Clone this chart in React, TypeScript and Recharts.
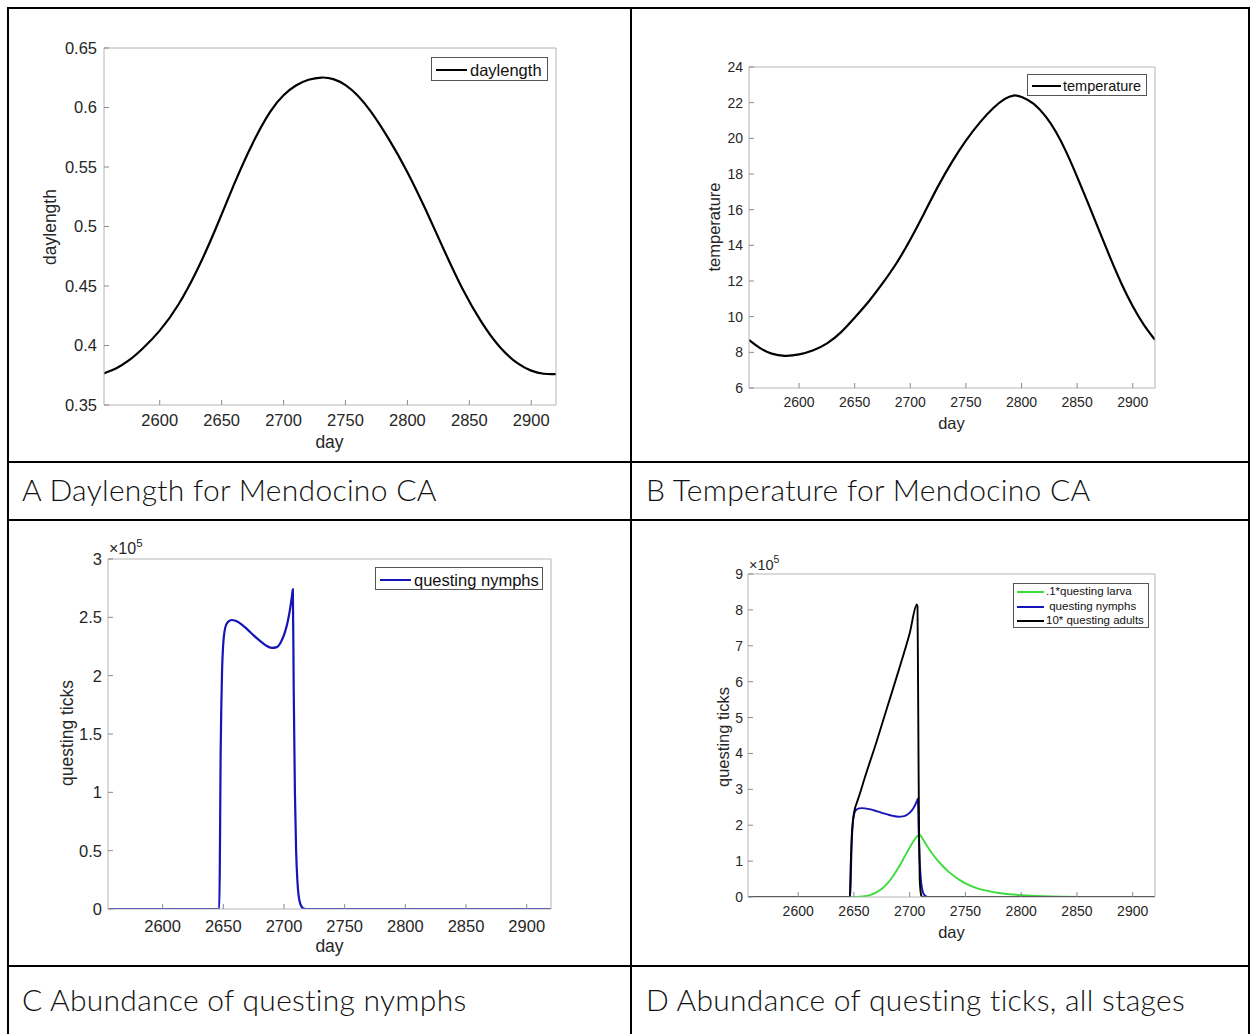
import React from 'react';
import { LineChart, Line, XAxis, YAxis, Legend } from 'recharts';

// ---------- data ----------
const dayTicks = [2600, 2650, 2700, 2750, 2800, 2850, 2900];
const dayDomain = [2555, 2920];

const daylengthDays = [2555, 2565, 2575, 2585, 2600, 2615, 2630, 2645, 2660, 2675, 2690, 2700, 2710, 2720, 2731, 2740, 2750, 2760, 2770, 2785, 2800, 2815, 2830, 2845, 2860, 2875, 2890, 2900, 2910, 2920];
const daylengthValues = [0.3766, 0.3805, 0.387, 0.396, 0.4115, 0.433, 0.462, 0.497, 0.536, 0.571, 0.599, 0.611, 0.619, 0.6238, 0.6257, 0.6245, 0.6195, 0.6105, 0.598, 0.574, 0.5465, 0.514, 0.479, 0.4455, 0.4185, 0.397, 0.3835, 0.3785, 0.3758, 0.376];
const daylengthTicks = [0.35, 0.4, 0.45, 0.5, 0.55, 0.6, 0.65];

const temperatureDays = [2555, 2565, 2575, 2587, 2600, 2613, 2625, 2638, 2650, 2663, 2675, 2688, 2700, 2713, 2725, 2738, 2750, 2763, 2775, 2785, 2793, 2800, 2811, 2822, 2831, 2840, 2850, 2860, 2870, 2880, 2890, 2900, 2910, 2920];
const temperatureValues = [8.7, 8.2, 7.9, 7.77, 7.86, 8.1, 8.45, 9.1, 9.95, 10.85, 11.85, 13.0, 14.3, 15.85, 17.35, 18.75, 19.9, 20.95, 21.75, 22.25, 22.45, 22.35, 22.0, 21.25, 20.4, 19.3, 17.85, 16.35, 14.8, 13.25, 11.8, 10.55, 9.5, 8.7];
const temperatureTicks = [6, 8, 10, 12, 14, 16, 18, 20, 22, 24];

const nymphDays = [2555, 2600, 2646.7, 2647.3, 2647.8, 2648.4, 2649, 2650, 2651, 2652.5, 2655, 2657, 2660, 2665, 2670, 2675, 2680, 2685, 2690, 2694, 2698, 2701, 2703, 2705, 2706.5, 2707.3, 2708, 2709, 2710, 2711, 2712, 2713, 2714.5, 2716, 2718, 2750, 2800, 2920];
const nymphValues = [0, 0, 0, 0.6e5, 1.33e5, 1.75e5, 2.05e5, 2.28e5, 2.38e5, 2.44e5, 2.47e5, 2.477e5, 2.47e5, 2.44e5, 2.395e5, 2.345e5, 2.3e5, 2.26e5, 2.238e5, 2.245e5, 2.3e5, 2.38e5, 2.46e5, 2.57e5, 2.68e5, 2.74e5, 1.9e5, 1.0e5, 0.5e5, 0.25e5, 0.12e5, 0.06e5, 0.02e5, 0.005e5, 0, 0, 0, 0];
const nymphTicksC = [0, 0.5e5, 1e5, 1.5e5, 2e5, 2.5e5, 3e5];

const larvaDays = [2555, 2600, 2648, 2655, 2660, 2665, 2670, 2675, 2680, 2685, 2690, 2695, 2700, 2704, 2707, 2709, 2712, 2715, 2720, 2725, 2730, 2735, 2740, 2745, 2750, 2760, 2770, 2780, 2790, 2800, 2820, 2840, 2860, 2920];
const larvaValues = [0, 0, 0, 0.005e5, 0.02e5, 0.06e5, 0.13e5, 0.23e5, 0.38e5, 0.58e5, 0.82e5, 1.1e5, 1.38e5, 1.58e5, 1.7e5, 1.73e5, 1.6e5, 1.45e5, 1.22e5, 1.02e5, 0.85e5, 0.7e5, 0.58e5, 0.47e5, 0.38e5, 0.25e5, 0.17e5, 0.11e5, 0.075e5, 0.05e5, 0.02e5, 0.008e5, 0.002e5, 0];

const adultDays = [2555, 2600, 2646.3, 2647, 2648, 2649, 2650, 2651, 2652.5, 2655, 2660, 2670, 2680, 2690, 2700, 2706.5, 2707, 2707.5, 2708, 2708.5, 2709, 2710, 2711, 2750, 2920];
const adultValues = [0, 0, 0, 0.8e5, 1.68e5, 2.1e5, 2.33e5, 2.48e5, 2.62e5, 2.85e5, 3.35e5, 4.3e5, 5.3e5, 6.3e5, 7.35e5, 8.15e5, 8.1e5, 6.0e5, 3.5e5, 1.5e5, 0.5e5, 0.1e5, 0, 0, 0];
const ticksD = [0, 1e5, 2e5, 3e5, 4e5, 5e5, 6e5, 7e5, 8e5, 9e5];

const zip = (d: number[], v: number[]) => d.map((day, i) => ({ day, v: v[i] }));

const SANS = '"Liberation Sans", Arial, Helvetica, sans-serif';
const BOX = '#b4b4b4';
const TICK = '#8a8a8a';
const TXT = '#262626';

type Series = { name: string; data: { day: number; v: number }[]; color: string; width: number };
type LegendSpec = {
  x: number; y: number; w: number; h: number;
  lineX1: number; lineX2: number; textX: number; rows: number[]; fontSize: number; lineW: number;
};
type PanelCfg = {
  plot: { x: number; y: number; w: number; h: number };
  yDomain: number[];
  yTicks: number[];
  yFmt: (v: number) => string;
  tickFont: number;
  xTickMargin: number;
  yTickMargin: number;
  curve: 'basis' | 'monotone';
  series: Series[];
  legend: LegendSpec;
};

const YW = 70, MT = 10, MR = 12, XH = 40;

function Panel({ cfg }: { cfg: PanelCfg }) {
  const left = cfg.plot.x - YW;
  const top = cfg.plot.y - MT;
  const width = YW + cfg.plot.w + MR;
  const height = MT + cfg.plot.h + XH;
  const lg = cfg.legend;
  const order = cfg.series.map((s) => s.name);
  const renderLegend = (props: any) => {
    const payload = [...(props.payload || [])].sort((a: any, b: any) => order.indexOf(a.value) - order.indexOf(b.value));
    return (
      <div style={{ position: 'relative', width: lg.w, height: lg.h, border: '1px solid #555', background: '#fff', boxSizing: 'border-box' }}>
        {payload.map((p: any, i: number) => (
          <React.Fragment key={i}>
            <div style={{ position: 'absolute', left: lg.lineX1 - lg.x, top: lg.rows[i] - lg.y - lg.lineW / 2, width: lg.lineX2 - lg.lineX1, height: lg.lineW, background: p.color }} />
            <div style={{ position: 'absolute', left: lg.textX - lg.x, top: lg.rows[i] - lg.y, transform: 'translateY(-50%)', fontFamily: SANS, fontSize: lg.fontSize, lineHeight: 1, color: '#111', whiteSpace: 'pre' }}>{p.value}</div>
          </React.Fragment>
        ))}
      </div>
    );
  };
  const tickStyle = { fontSize: cfg.tickFont, fill: TXT, fontFamily: SANS };
  return (
    <div style={{ position: 'absolute', left, top, width, height }}>
      <LineChart width={width} height={height} margin={{ top: MT - 1, right: MR - 1, bottom: 0, left: 0 }}>
        <XAxis xAxisId="b" type="number" dataKey="day" domain={dayDomain} ticks={dayTicks} allowDataOverflow
          height={XH} tickSize={-5} tickMargin={cfg.xTickMargin} tick={tickStyle}
          axisLine={{ stroke: BOX }} tickLine={{ stroke: TICK }} interval={0} />
        <XAxis xAxisId="t" orientation="top" type="number" dataKey="day" domain={dayDomain} ticks={dayTicks} allowDataOverflow
          height={1} tickSize={-5} tick={false} axisLine={{ stroke: BOX }} tickLine={{ stroke: TICK }} interval={0} />
        <YAxis yAxisId="l" type="number" domain={cfg.yDomain} ticks={cfg.yTicks} allowDataOverflow
          width={YW} tickSize={-5} tickMargin={cfg.yTickMargin} tick={tickStyle} tickFormatter={cfg.yFmt}
          axisLine={{ stroke: BOX }} tickLine={{ stroke: TICK }} interval={0} />
        <YAxis yAxisId="r" orientation="right" type="number" domain={cfg.yDomain} ticks={cfg.yTicks} allowDataOverflow
          width={1} tickSize={-5} tick={false} axisLine={{ stroke: BOX }} tickLine={{ stroke: TICK }} interval={0} />
        {cfg.series.map((s) => (
          <Line key={s.name} xAxisId="b" yAxisId="l" data={s.data} dataKey="v" name={s.name} type={cfg.curve}
            stroke={s.color} strokeWidth={s.width} dot={false} isAnimationActive={false} />
        ))}
        <Legend layout="vertical" align="center" verticalAlign="middle" content={renderLegend}
          wrapperStyle={{ position: 'absolute', left: lg.x - left, top: lg.y - top, width: lg.w, height: lg.h, margin: 0, padding: 0 }} />
      </LineChart>
    </div>
  );
}

const panelA: PanelCfg = {
  plot: { x: 104, y: 48, w: 452, h: 357 },
  yDomain: [0.35, 0.65], yTicks: daylengthTicks, yFmt: (v) => String(v),
  tickFont: 16.5, xTickMargin: 14, yTickMargin: 12, curve: 'basis',
  series: [{ name: 'daylength', data: zip(daylengthDays, daylengthValues), color: '#000', width: 2.2 }],
  legend: { x: 431, y: 57, w: 117, h: 24, lineX1: 435, lineX2: 466, textX: 469, rows: [69], fontSize: 16.5, lineW: 2 },
};
const panelB: PanelCfg = {
  plot: { x: 749, y: 67, w: 406, h: 321 },
  yDomain: [6, 24], yTicks: temperatureTicks, yFmt: (v) => String(v),
  tickFont: 14, xTickMargin: 14, yTickMargin: 11, curve: 'basis',
  series: [{ name: 'temperature', data: zip(temperatureDays, temperatureValues), color: '#000', width: 2.2 }],
  legend: { x: 1027, y: 74, w: 120, h: 22, lineX1: 1031, lineX2: 1060, textX: 1062, rows: [85], fontSize: 14.5, lineW: 2 },
};
const panelC: PanelCfg = {
  plot: { x: 108, y: 559, w: 443, h: 350 },
  yDomain: [0, 3e5], yTicks: nymphTicksC, yFmt: (v) => String(v / 1e5),
  tickFont: 16.5, xTickMargin: 16, yTickMargin: 11, curve: 'monotone',
  series: [{ name: 'questing nymphs', data: zip(nymphDays, nymphValues), color: '#1414b8', width: 2.2 }],
  legend: { x: 375, y: 567, w: 168, h: 23, lineX1: 379, lineX2: 410, textX: 413, rows: [578.5], fontSize: 16.5, lineW: 2 },
};
const panelD: PanelCfg = {
  plot: { x: 748, y: 574, w: 407, h: 323 },
  yDomain: [0, 9e5], yTicks: ticksD, yFmt: (v) => String(v / 1e5),
  tickFont: 14, xTickMargin: 14, yTickMargin: 10, curve: 'monotone',
  series: [
    { name: '.1*questing larva', data: zip(larvaDays, larvaValues), color: '#3ddc3d', width: 1.9 },
    { name: ' questing nymphs', data: zip(nymphDays, nymphValues), color: '#1414b8', width: 1.9 },
    { name: '10* questing adults', data: zip(adultDays, adultValues), color: '#000', width: 1.9 },
  ],
  legend: { x: 1013, y: 583, w: 136, h: 45, lineX1: 1016, lineX2: 1043, textX: 1045, rows: [591, 605.5, 620], fontSize: 11.5, lineW: 2 },
};

const abs = (s: React.CSSProperties): React.CSSProperties => ({ position: 'absolute', ...s });

function AxisTitle({ x, y, text, size, vertical }: { x: number; y: number; text: string; size: number; vertical?: boolean }) {
  return (
    <div style={abs({ left: x, top: y, transform: `translate(-50%,-50%)${vertical ? ' rotate(-90deg)' : ''}`, fontFamily: SANS, fontSize: size, lineHeight: 1, color: TXT, whiteSpace: 'nowrap' })}>{text}</div>
  );
}

function Exponent({ x, y, size }: { x: number; y: number; size: number }) {
  return (
    <div style={abs({ left: x, top: y, fontFamily: SANS, fontSize: size, lineHeight: 1, color: TXT, whiteSpace: 'nowrap' })}>
      ×10<span style={{ fontSize: size * 0.72, position: 'relative', top: -size * 0.45 }}>5</span>
    </div>
  );
}

const CAP = '"Lato", "Noto Sans", sans-serif';
function Caption({ x, y, text }: { x: number; y: number; text: string }) {
  return <div style={abs({ left: x, top: y, fontFamily: CAP, fontSize: 30, fontWeight: 300, letterSpacing: 0.3, lineHeight: '30px', color: '#111', whiteSpace: 'nowrap' })}>{text}</div>;
}

export default function App() {
  const line = '#000';
  return (
    <div style={abs({ left: 0, top: 0, width: 1250, height: 1034, background: '#fff', overflow: 'hidden' })}>
      {/* table borders */}
      <div style={abs({ left: 7, top: 7, width: 1243, height: 2, background: line })} />
      <div style={abs({ left: 7, top: 7, width: 2, height: 1027, background: line })} />
      <div style={abs({ left: 630, top: 7, width: 2, height: 1027, background: line })} />
      <div style={abs({ left: 1248, top: 7, width: 2, height: 1027, background: line })} />
      <div style={abs({ left: 7, top: 461, width: 1243, height: 2, background: line })} />
      <div style={abs({ left: 7, top: 519, width: 1243, height: 2, background: line })} />
      <div style={abs({ left: 7, top: 965, width: 1243, height: 2, background: line })} />

      <Panel cfg={panelA} />
      <Panel cfg={panelB} />
      <Panel cfg={panelC} />
      <Panel cfg={panelD} />

      <AxisTitle x={329.5} y={443} text="day" size={17.5} />
      <AxisTitle x={51} y={227} text="daylength" size={17.5} vertical />
      <AxisTitle x={951.5} y={422.5} text="day" size={16.5} />
      <AxisTitle x={714} y={227} text="temperature" size={16.5} vertical />
      <AxisTitle x={329.5} y={946.5} text="day" size={17.5} />
      <AxisTitle x={67.5} y={733} text="questing ticks" size={17.5} vertical />
      <AxisTitle x={951.5} y={931.5} text="day" size={16.5} />
      <AxisTitle x={723} y={737} text="questing ticks" size={16.5} vertical />

      <Exponent x={109} y={541} size={16} />
      <Exponent x={749} y={558} size={14.5} />

      <Caption x={22} y={473.5} text="A Daylength for Mendocino CA" />
      <Caption x={646} y={473.5} text="B Temperature for Mendocino CA" />
      <Caption x={22} y={983.5} text="C Abundance of questing nymphs" />
      <Caption x={646} y={983.5} text="D Abundance of questing ticks, all stages" />
    </div>
  );
}
